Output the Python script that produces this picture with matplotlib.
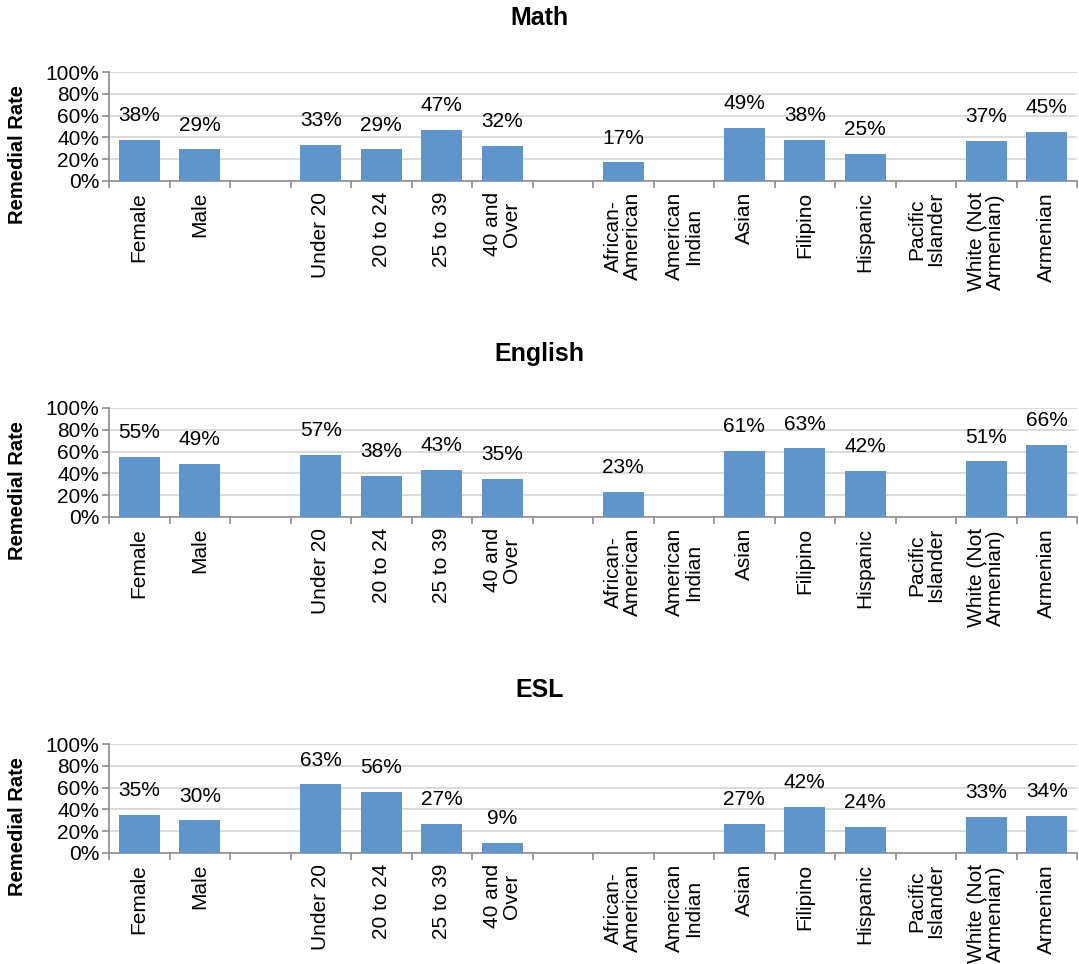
import numpy as np
import matplotlib.pyplot as plt
from matplotlib.ticker import FuncFormatter, MultipleLocator

plt.rcParams['font.family'] = ['Liberation Sans', 'DejaVu Sans']

categories = ['Female', 'Male', '', 'Under 20', '20 to 24', '25 to 39', '40 and\nOver', '',
              'African-\nAmerican', 'American\nIndian', 'Asian', 'Filipino', 'Hispanic',
              'Pacific\nIslander', 'White (Not\nArmenian)', 'Armenian']

nan = np.nan
math_rates = [38, 29, nan, 33, 29, 47, 32, nan, 17, nan, 49, 38, 25, nan, 37, 45]
english_rates = [55, 49, nan, 57, 38, 43, 35, nan, 23, nan, 61, 63, 42, nan, 51, 66]
esl_rates = [35, 30, nan, 63, 56, 27, 9, nan, nan, nan, 27, 42, 24, nan, 33, 34]

panels = [('Math', math_rates), ('English', english_rates), ('ESL', esl_rates)]

W, H = 1079, 964
fig = plt.figure(figsize=(W / 100, H / 100), dpi=100)

bar_color = '#5F95CA'
grid_color = '#D4D4D4'
axis_color = '#8C8C8C'
fs = 15

axes_tops = [72, 408, 744]
ax_h = 109
ax_left, ax_right = 109, 1077

x = np.arange(len(categories))

for (title, vals), top in zip(panels, axes_tops):
    ax = fig.add_axes([ax_left / W, 1 - (top + ax_h) / H, (ax_right - ax_left) / W, ax_h / H])
    vals = np.array(vals, dtype=float)
    ax.bar(x, np.nan_to_num(vals), width=0.67, color=bar_color, zorder=3)
    for xi, v in zip(x, vals):
        if not np.isnan(v):
            ax.annotate(f'{v:.0f}%', (xi, v), xytext=(0, 13.5), textcoords='offset points',
                        ha='center', va='baseline', fontsize=fs, color='black')
    ax.set_xlim(-0.5, len(categories) - 0.5)
    ax.set_ylim(0, 100)
    ax.yaxis.set_major_locator(MultipleLocator(20))
    ax.yaxis.set_major_formatter(FuncFormatter(lambda v, p: f'{v:.0f}%'))
    ax.grid(axis='y', color=grid_color, linewidth=1.2, zorder=0)
    ax.set_axisbelow(True)

    ax.set_xticks(x)
    ax.set_xticklabels(categories, rotation=90, ha='center', va='top',
                       multialignment='center', fontsize=fs, linespacing=1.0)
    ax.tick_params(axis='x', which='major', length=0, pad=8)
    ax.set_xticks(np.arange(-0.5, len(categories), 1.0), minor=True)
    ax.tick_params(axis='x', which='minor', length=5, color=axis_color, width=1.2)
    ax.tick_params(axis='y', length=5, color=axis_color, width=1.2, labelsize=fs, pad=2)

    for s in ['top', 'right']:
        ax.spines[s].set_visible(False)
    for s in ['left', 'bottom']:
        ax.spines[s].set_color(axis_color)
        ax.spines[s].set_linewidth(1.2)

    fig.text(0.5, 1 - (top - 54) / H, title, ha='center', va='center',
             fontsize=18, fontweight='bold')
    fig.text(18 / W, 1 - (top + 82) / H, 'Remedial Rate', rotation=90,
             ha='center', va='center', fontsize=14.5, fontweight='bold')

fig.savefig('out.png', dpi=100)
